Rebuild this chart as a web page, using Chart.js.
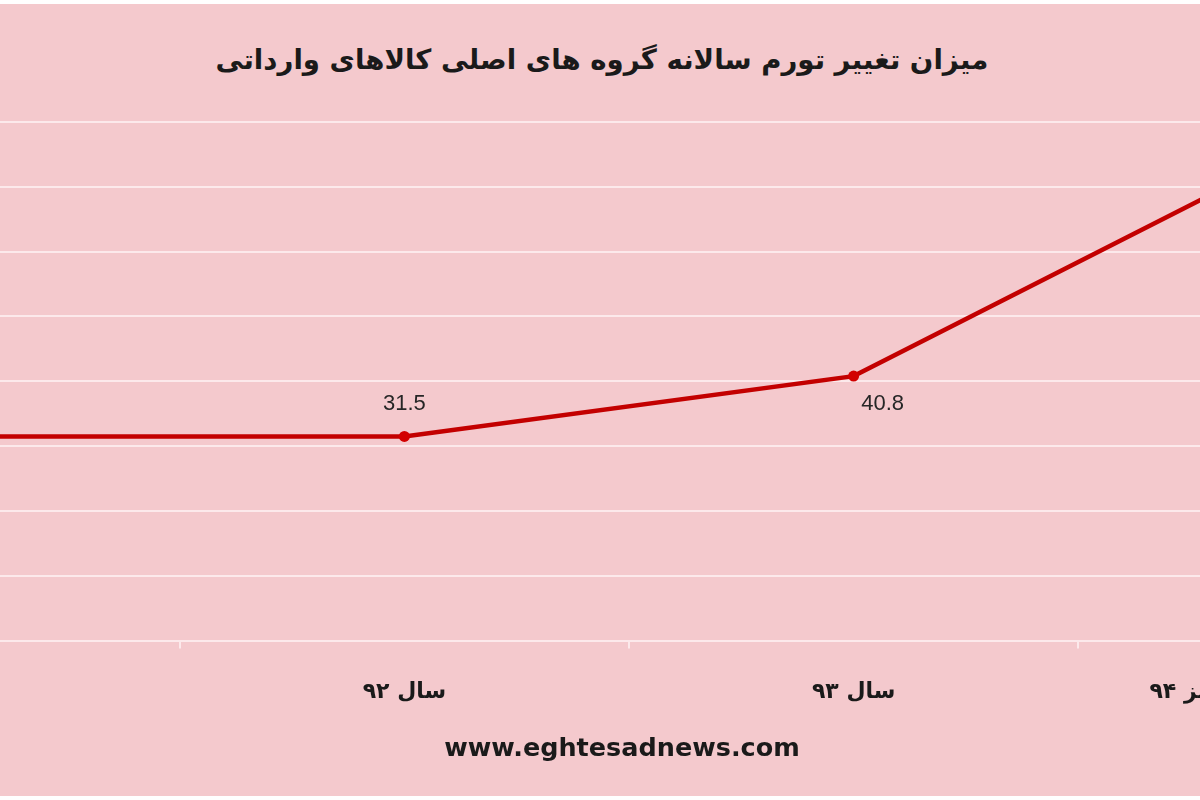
<!DOCTYPE html>
<html>
<head>
<meta charset="utf-8">
<script src="https://cdn.jsdelivr.net/npm/chart.js@4.4.0/dist/chart.umd.min.js"></script>
<style>
  html, body { margin: 0; padding: 0; background: #ffffff; }
  body { width: 1200px; height: 800px; overflow: hidden; position: relative; }
  #frame { position: absolute; left: 0; top: 4px; width: 1200px; height: 792px; background: #f4c9cd; overflow: hidden; }
  #title { position: absolute; left: 0; width: 1204px; top: 39px; text-align: center; direction: rtl;
           font: bold 27.6px "DejaVu Sans", sans-serif; color: #1a1a1a; }
  #source { position: absolute; left: 0; width: 1244px; top: 728px; text-align: center;
            font: bold 25.5px "DejaVu Sans", sans-serif; color: #1a1a1a; }
  #plot { position: absolute; left: -275px; top: 96px; width: 1808px; height: 635px; }
</style>
</head>
<body>
<div id="frame">
  <div id="title">میزان تغییر تورم سالانه گروه های اصلی کالاهای وارداتی</div>
  <div id="plot"><canvas id="inflation" dir="rtl"></canvas></div>
  <div id="source">www.eghtesadnews.com</div>
</div>
<script>
// --- DATA ---
const categories = ["سال ۹۱", "سال ۹۲", "سال ۹۳", "دوازده ماه منتهی به پاییز ۹۴"];
const inflation = [31.5, 31.5, 40.8, 76];
const yTicks = [0, 10, 20, 30, 40, 50, 60, 70, 80];

// where each value label sits relative to its point
const labelDx = [0, 0, 29, 0];
const labelDy = [-32, -32, 28, -32];

// --- VALUE LABELS ---
const valueLabels = {
    id: "valueLabels",
    afterDatasetsDraw(chart) {
        const ctx = chart.ctx;
        const meta = chart.getDatasetMeta(0);
        ctx.save();
        ctx.direction = "ltr";
        ctx.font = "22px 'Liberation Sans', Arial, sans-serif";
        ctx.fillStyle = "#262626";
        ctx.textAlign = "center";
        ctx.textBaseline = "middle";
        meta.data.forEach((pt, i) => {
            ctx.fillText(String(inflation[i]), pt.x + labelDx[i], pt.y + labelDy[i]);
        });
        ctx.restore();
    }
};

// --- LINE CHART ---
new Chart(document.getElementById("inflation"), {
    type: "line",
    data: {
        labels: categories,
        datasets: [{
            data: inflation,
            borderColor: "#c30000",
            backgroundColor: "#d20000",
            borderWidth: 4.5,
            pointRadius: 5.5,
            pointHoverRadius: 5.5,
            pointBorderWidth: 0,
            tension: 0,
            clip: false
        }]
    },
    options: {
        responsive: true,
        maintainAspectRatio: false,
        animation: false,
        layout: { padding: { top: 22, left: 0, right: 0, bottom: 0 } },
        plugins: {
            legend: { display: false },
            tooltip: { enabled: false },
            title: { display: false }
        },
        scales: {
            x: {
                offset: true,
                border: { display: true, color: "#fce9eb", width: 2 },
                grid: {
                    offset: true,
                    drawOnChartArea: false,
                    drawTicks: true,
                    tickLength: 8,
                    color: "#fce9eb",
                    lineWidth: 2
                },
                ticks: {
                    padding: 30,
                    maxRotation: 0,
                    autoSkip: false,
                    color: "#1a1a1a",
                    font: { family: "'DejaVu Sans', sans-serif", size: 22, weight: "bold" }
                }
            },
            y: {
                min: yTicks[0],
                max: yTicks[yTicks.length - 1],
                border: { display: false },
                grid: { color: "#fce9eb", lineWidth: 2, drawTicks: false },
                ticks: { display: false, stepSize: yTicks[1] - yTicks[0] },
                afterBuildTicks: scale => { scale.ticks = yTicks.map(v => ({ value: v })); }
            }
        }
    },
    plugins: [valueLabels]
});
</script>
</body>
</html>
